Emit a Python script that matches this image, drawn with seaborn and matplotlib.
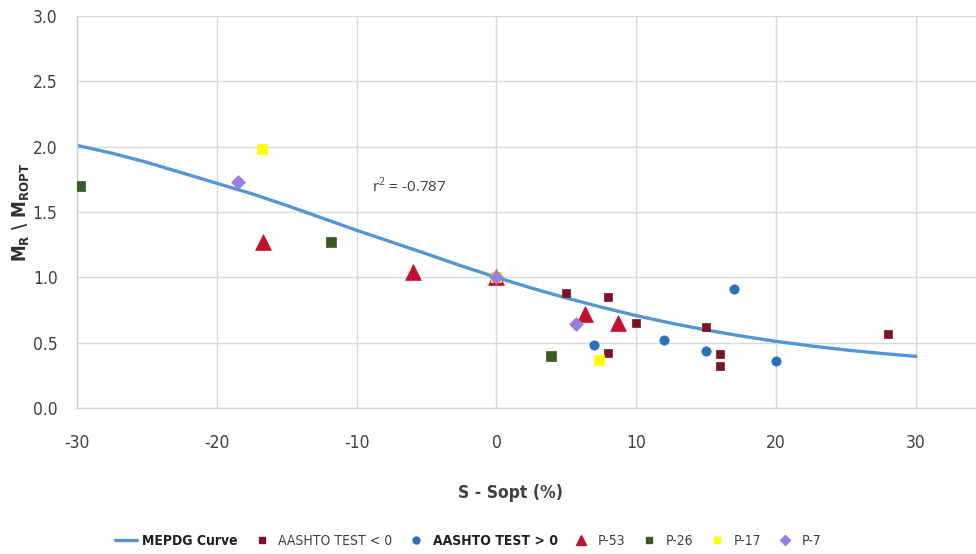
import matplotlib
matplotlib.use("Agg")
import matplotlib.pyplot as plt
import seaborn as sns
import pandas as pd
from matplotlib.lines import Line2D

# MEPDG curve
curve_x = [-30, -27.5, -25, -22.5, -20, -17.5, -15, -12.5, -10, -7.5, -5, -2.5, 0,
           2.5, 5, 7.5, 10, 12.5, 15, 17.5, 20, 22.5, 25, 27.5, 30]
curve_y = [2.01, 1.95, 1.88, 1.80, 1.72, 1.64, 1.55, 1.455, 1.36, 1.27, 1.18, 1.087, 1.0,
           0.918, 0.842, 0.772, 0.707, 0.649, 0.597, 0.551, 0.510, 0.475, 0.444, 0.418, 0.395]

aashto_neg_x = [5, 8, 10, 8, 15, 16, 16, 28]
aashto_neg_y = [0.88, 0.85, 0.65, 0.42, 0.62, 0.41, 0.32, 0.57]

aashto_pos_x = [17, 12, 15, 20, 7]
aashto_pos_y = [0.91, 0.52, 0.44, 0.36, 0.48]

p53_x = [-16.7, -6, 0, 6.3, 8.7]
p53_y = [1.27, 1.04, 1.0, 0.72, 0.65]

p26_x = [-29.8, -11.8, 0, 3.9]
p26_y = [1.70, 1.27, 1.0, 0.40]

p17_x = [-16.8, 0, 7.3]
p17_y = [1.98, 1.0, 0.37]

p7_x = [-18.5, 0, 5.7]
p7_y = [1.73, 1.0, 0.64]

x_ticks = [-30, -20, -10, 0, 10, 20, 30]
y_ticks = [0.0, 0.5, 1.0, 1.5, 2.0, 2.5, 3.0]

sns.set_theme(style="whitegrid")
plt.rcParams["font.family"] = ["DejaVu Sans"]
plt.rcParams["font.stretch"] = "condensed"

fig = plt.figure(figsize=(9.76, 5.54), dpi=100)
ax = fig.add_axes([77 / 976, 146 / 554, 1 - 77 / 976, 392 / 554])

curve_df = pd.DataFrame({"x": curve_x, "y": curve_y})
sns.lineplot(data=curve_df, x="x", y="y", ax=ax, color="#5596d2", linewidth=2.4,
             zorder=2, sort=False)

series = [
    ("AASHTO TEST < 0", aashto_neg_x, aashto_neg_y, "s", "#7d1226", 40),
    ("AASHTO TEST > 0", aashto_pos_x, aashto_pos_y, "o", "#2a71b8", 45),
    ("P-53", p53_x, p53_y, "^", "#c4102f", 130),
    ("P-26", p26_x, p26_y, "s", "#3a5a24", 60),
    ("P-17", p17_x, p17_y, "s", "#ffff00", 55),
    ("P-7", p7_x, p7_y, "D", "#9a7ee6", 50),
]
for name, xs, ys, mk, col, sz in series:
    df = pd.DataFrame({"x": xs, "y": ys})
    sns.scatterplot(data=df, x="x", y="y", ax=ax, marker=mk, color=col, s=sz,
                    edgecolor=col, linewidth=0.5, zorder=3)

ax.set_xlim(-30, 34.3)
ax.set_ylim(0, 3)
ax.set_xticks(x_ticks)
ax.set_yticks(y_ticks)
ax.set_xticklabels([str(t) for t in x_ticks])
ax.set_yticklabels([f"{t:.1f}" for t in y_ticks])
ax.tick_params(axis="x", pad=19, labelsize=12.5, colors="#404040", length=0)
ax.tick_params(axis="y", pad=14, labelsize=12.5, colors="#404040", length=0)
ax.grid(True, color="#d9d9d9", linewidth=1)
for s in ["top", "right"]:
    ax.spines[s].set_visible(False)
for s in ["left", "bottom"]:
    ax.spines[s].set_color("#d0d0d0")
    ax.spines[s].set_linewidth(1)

ax.set_xlabel("S - Sopt (%)", fontsize=12.5, fontweight="bold", color="#404040")
ax.xaxis.set_label_coords((510 - 77) / (976 - 77), -(484 - 408) / 392)
ax.set_ylabel(r"M$_\mathregular{R}$ \ M$_\mathregular{ROPT}$", fontsize=13.5, fontweight="bold",
              color="#303030", va="center")
ax.yaxis.set_label_coords(-(77 - 21) / 899, 0.5)

ax.text(-8.9, 1.70, r"r$^\mathregular{2}$ = -0.787", fontsize=11, color="#404040",
        va="center", ha="left", family=["Open Sans", "DejaVu Sans"], fontstretch="normal")

handles = [Line2D([], [], color="#5596d2", linewidth=2.4)]
labels = ["MEPDG Curve"]
for name, xs, ys, mk, col, sz in series:
    handles.append(Line2D([], [], linestyle="none", marker=mk, color=col,
                          markersize=5 if mk != "^" else 7))
    labels.append(name)
leg = fig.legend(handles, labels, loc="center", bbox_to_anchor=(468 / 976, 1 - 541 / 554),
                 ncol=7, frameon=False, fontsize=10, handlelength=1.6,
                 handletextpad=0.4, columnspacing=0.9)
for t in leg.get_texts():
    t.set_color("#404040")
    if t.get_text() in ("MEPDG Curve", "AASHTO TEST > 0"):
        t.set_fontweight("bold")
        t.set_color("#202020")

fig.savefig("out.png", dpi=100, facecolor="white")
